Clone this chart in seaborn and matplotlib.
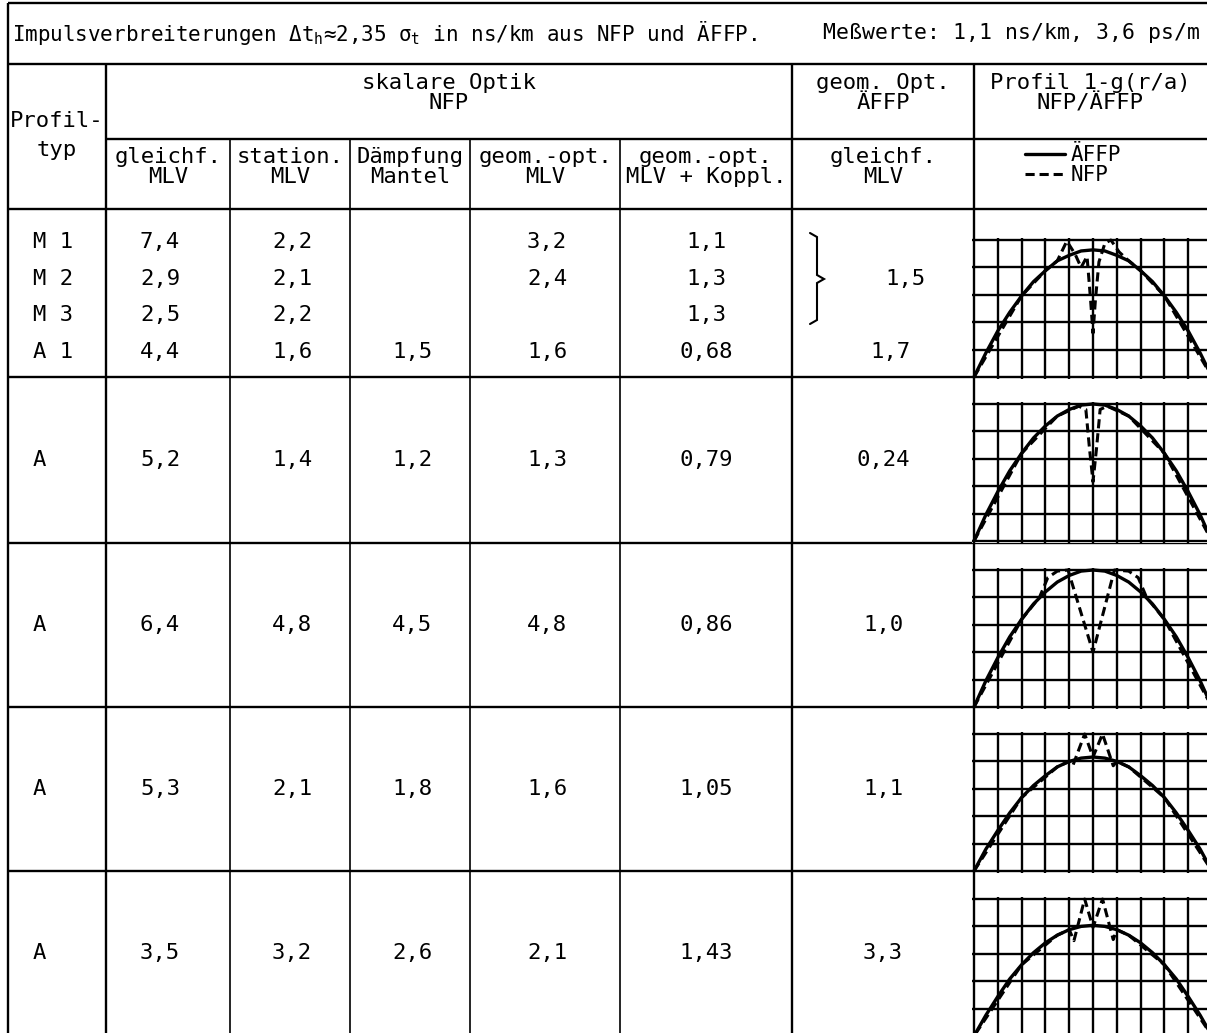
import matplotlib
matplotlib.use("Agg")
import matplotlib.pyplot as plt
import pandas as pd
import seaborn as sns

sns.set_style("white")
plt.rcParams["font.family"] = ["DejaVu Sans Mono", "DejaVu Sans"]
plt.rcParams["text.color"] = "black"
plt.rcParams["mathtext.fontset"] = "custom"
plt.rcParams["mathtext.rm"] = "DejaVu Sans Mono"
plt.rcParams["mathtext.it"] = "DejaVu Sans Mono"
plt.rcParams["mathtext.bf"] = "DejaVu Sans Mono:bold"

# ---------------- table texts ----------------
title_left = "Impulsverbreiterungen Δ$t_h$≈2,35 $\\sigma_t$ in ns/km aus NFP und ÄFFP."
title_right = "Meßwerte: 1,1 ns/km, 3,6 ps/m"

group_headers = [("skalare Optik", "NFP"), ("geom. Opt.", "ÄFFP"), ("Profil 1-g(r/a)", "NFP/ÄFFP")]
type_header = ("Profil-", "typ")
column_headers = [("gleichf.", "MLV"), ("station.", "MLV"), ("Dämpfung", "Mantel"),
                  ("geom.-opt.", "MLV"), ("geom.-opt.", "MLV + Koppl."), ("gleichf.", "MLV")]
legend_labels = ["ÄFFP", "NFP"]

# block of measured profiles M 1 ... A 1 (ns/km)
types_m = ["M 1", "M 2", "M 3", "A 1"]
gleichf_m = ["7,4", "2,9", "2,5", "4,4"]
station_m = ["2,2", "2,1", "2,2", "1,6"]
daempfung_m = ["", "", "", "1,5"]
geom_m = ["3,2", "2,4", "", "1,6"]
koppl_m = ["1,1", "1,3", "1,3", "0,68"]
affp_m = ["", "1,5", "", "1,7"]          # 1,5 applies to M 1 - M 3

# single profiles A (ns/km)
types_a = ["A", "A", "A", "A"]
gleichf_a = ["5,2", "6,4", "5,3", "3,5"]
station_a = ["1,4", "4,8", "2,1", "3,2"]
daempfung_a = ["1,2", "4,5", "1,8", "2,6"]
geom_a = ["1,3", "4,8", "1,6", "2,1"]
koppl_a = ["0,79", "0,86", "1,05", "1,43"]
affp_a = ["0,24", "1,0", "1,1", "3,3"]

# ---------------- profile curves 1-g(r/a) ----------------
r_affp = [-1.0, -0.9, -0.8, -0.7, -0.6, -0.5, -0.4, -0.3, -0.2, -0.1, 0.0,
          0.1, 0.2, 0.3, 0.4, 0.5, 0.6, 0.7, 0.8, 0.9, 1.0]
affp_1 = [0, .22, .42, .59, .74, .87, .97, 1.06, 1.11, 1.15, 1.16,
          1.15, 1.11, 1.06, .97, .87, .74, .59, .42, .22, 0]
affp_2 = [0, .24, .45, .64, .80, .94, 1.05, 1.14, 1.20, 1.24, 1.25,
          1.24, 1.20, 1.14, 1.05, .94, .80, .64, .45, .24, 0]
affp_3 = [0, .24, .45, .64, .80, .94, 1.05, 1.14, 1.20, 1.24, 1.25,
          1.24, 1.20, 1.14, 1.05, .94, .80, .64, .45, .24, 0]
affp_4 = [0, .20, .37, .53, .67, .78, .87, .95, 1.00, 1.03, 1.04,
          1.03, 1.00, .95, .87, .78, .67, .53, .37, .20, 0]
affp_5 = [0, .19, .36, .52, .65, .76, .85, .92, .97, 1.00, 1.01,
          1.00, .97, .92, .85, .76, .65, .52, .36, .19, 0]

nfp_r_1 = [-1, -0.6, -0.4, -0.3, -0.22, -0.15, -0.1, -0.05, -0.02, 0, 0.02, 0.05, 0.1, 0.15, 0.22, 0.3, 0.4, 0.6, 1]
nfp_1 = [0, .74, .97, 1.06, 1.24, 1.12, 1.0, 1.1, 0.7, 0.40, 0.7, 1.05, 1.22, 1.25, 1.14, 1.06, .97, .74, 0]
nfp_r_2 = [-1, -0.6, -0.3, -0.12, -0.06, -0.03, 0, 0.03, 0.06, 0.12, 0.3, 0.6, 1]
nfp_2 = [0, .80, 1.14, 1.23, 1.2, 0.85, 0.54, 0.85, 1.2, 1.23, 1.14, .80, 0]
nfp_r_3 = [-1, -0.6, -0.45, -0.38, -0.3, -0.21, 0, 0.18, 0.3, 0.38, 0.45, 0.6, 1]
nfp_3 = [0, .80, 1.0, 1.18, 1.24, 1.25, .50, 1.25, 1.24, 1.18, 1.0, .80, 0]
nfp_r_4 = [-1, -0.6, -0.3, -0.2, -0.17, -0.07, 0, 0.08, 0.17, 0.2, 0.3, 0.6, 1]
nfp_4 = [0, .67, .95, 1.0, 0.96, 1.25, 1.04, 1.25, 0.96, 1.0, .95, .67, 0]
nfp_r_5 = [-1, -0.6, -0.3, -0.2, -0.16, -0.07, 0, 0.08, 0.17, 0.2, 0.3, 0.6, 1]
nfp_5 = [0, .65, .92, .97, 0.87, 1.25, 0.99, 1.25, 0.88, .97, .92, .65, 0]

grid_r = [-1.0, -0.8, -0.6, -0.4, -0.2, 0.0, 0.2, 0.4, 0.6, 0.8, 1.0]
grid_v = [0.0, 0.25, 0.5, 0.75, 1.0, 1.25]

# ---------------- layout (pixels) ----------------
W, H, DPI = 1207, 1033, 100
col_x = [8, 106, 230, 350, 470, 620, 792, 974]
y_top, y_title, y_sub, y_head = 3, 64, 139, 209
row_lines = [377, 543, 707, 871]
a_row_centers = [460, 625, 789, 953]
m_row_y = [242, 279, 315, 352]
plot_tops = [240, 404, 570, 734, 899]
plot_x0, plot_w, plot_h = 974, 238, 137
num_x = [160, 292, 412, 547, 706, 883]
FS = 16
LW = 1.7

fig = plt.figure(figsize=(W / DPI, H / DPI), dpi=DPI, facecolor="white")
ax = fig.add_axes([0, 0, 1, 1])
ax.set_xlim(0, W)
ax.set_ylim(H, 0)
ax.axis("off")

# ruling of the table
ax.hlines(y_top, col_x[0], W, color="black", lw=LW)
ax.hlines(y_title, col_x[0], W, color="black", lw=LW)
ax.hlines(y_sub, col_x[1], W, color="black", lw=LW)
ax.hlines([y_head] + row_lines, col_x[0], W, color="black", lw=LW)
ax.vlines(col_x[0], y_top, H, color="black", lw=LW)
ax.vlines([col_x[1], col_x[6], col_x[7]], y_title, H, color="black", lw=LW)
ax.vlines(col_x[2:6], y_sub, H, color="black", lw=1.2)

# title row
ax.text(12, 33, title_left, ha="left", va="center", fontsize=15)
ax.text(1200, 33, title_right, ha="right", va="center", fontsize=15.5)

# header
group_x = [(col_x[1] + col_x[6]) / 2, (col_x[6] + col_x[7]) / 2, (col_x[7] + W) / 2]
for gx, (l1, l2) in zip(group_x, group_headers):
    ax.text(gx, 83, l1, ha="center", va="center", fontsize=FS)
    ax.text(gx, 103, l2, ha="center", va="center", fontsize=FS)
ax.text(57, 121, type_header[0], ha="center", va="center", fontsize=FS)
ax.text(57, 150, type_header[1], ha="center", va="center", fontsize=FS)
for i, (l1, l2) in enumerate(column_headers):
    cx = (col_x[i + 1] + col_x[i + 2]) / 2
    ax.text(cx, 157, l1, ha="center", va="center", fontsize=FS)
    ax.text(cx, 177, l2, ha="center", va="center", fontsize=FS)

# M block
m_cols = [gleichf_m, station_m, daempfung_m, geom_m, koppl_m]
for j, y in enumerate(m_row_y):
    ax.text(33, y, types_m[j], ha="left", va="center", fontsize=FS)
    for k, col in enumerate(m_cols):
        ax.text(num_x[k], y, col[j], ha="center", va="center", fontsize=FS)
ax.text(905, m_row_y[1], affp_m[1], ha="center", va="center", fontsize=FS)
ax.text(890, m_row_y[3], affp_m[3], ha="center", va="center", fontsize=FS)
# brace joining M 1 - M 3
ax.plot([810, 817, 817, 824, 817, 817, 810], [233, 237, 275, 279, 283, 320, 324],
        color="black", lw=1.5, solid_joinstyle="miter")

# A rows
a_cols = [gleichf_a, station_a, daempfung_a, geom_a, koppl_a, affp_a]
for j, y in enumerate(a_row_centers):
    ax.text(33, y, types_a[j], ha="left", va="center", fontsize=FS)
    for k, col in enumerate(a_cols):
        ax.text(num_x[k], y, col[j], ha="center", va="center", fontsize=FS)

# profile diagrams
affp_sets = [affp_1, affp_2, affp_3, affp_4, affp_5]
nfp_sets = [(nfp_r_1, nfp_1), (nfp_r_2, nfp_2), (nfp_r_3, nfp_3), (nfp_r_4, nfp_4), (nfp_r_5, nfp_5)]
pad = 2
dx = 2.0 / plot_w
dy = 1.25 / plot_h
legend_handles = None
for top, affp, (nr, nv) in zip(plot_tops, affp_sets, nfp_sets):
    rect = [(plot_x0 - pad) / W, 1 - (top + plot_h + pad) / H,
            (plot_w + 2 * pad) / W, (plot_h + 2 * pad) / H]
    pax = fig.add_axes(rect)
    pax.set_facecolor("white")
    df_a = pd.DataFrame({"r": r_affp, "wert": affp})
    df_n = pd.DataFrame({"r": nr, "wert": nv})
    sns.lineplot(data=df_a, x="r", y="wert", ax=pax, color="black", lw=2.4, legend=False)
    sns.lineplot(data=df_n, x="r", y="wert", ax=pax, color="black", lw=2.2, legend=False,
                 linestyle=(0, (3, 1.6)))
    pax.set_xlim(-1 - pad * dx, 1 + pad * dx)
    pax.set_ylim(-pad * dy, 1.25 + pad * dy)
    pax.set_xticks(grid_r)
    pax.set_yticks(grid_v)
    pax.grid(True, color="black", lw=1.7)
    pax.set_axisbelow(True)
    pax.tick_params(length=0, labelbottom=False, labelleft=False)
    pax.set_xlabel("")
    pax.set_ylabel("")
    for s in pax.spines.values():
        s.set_visible(False)
    if legend_handles is None:
        legend_handles = pax.get_lines()[:2]

fig.legend(handles=legend_handles, labels=legend_labels, loc="upper left",
           bbox_to_anchor=(1025 / W, 1 - 145 / H), frameon=False, fontsize=15,
           handlelength=1.9, handletextpad=0.3, labelspacing=0.0,
           borderpad=0, borderaxespad=0)

fig.savefig("out.png", dpi=DPI, facecolor="white")
